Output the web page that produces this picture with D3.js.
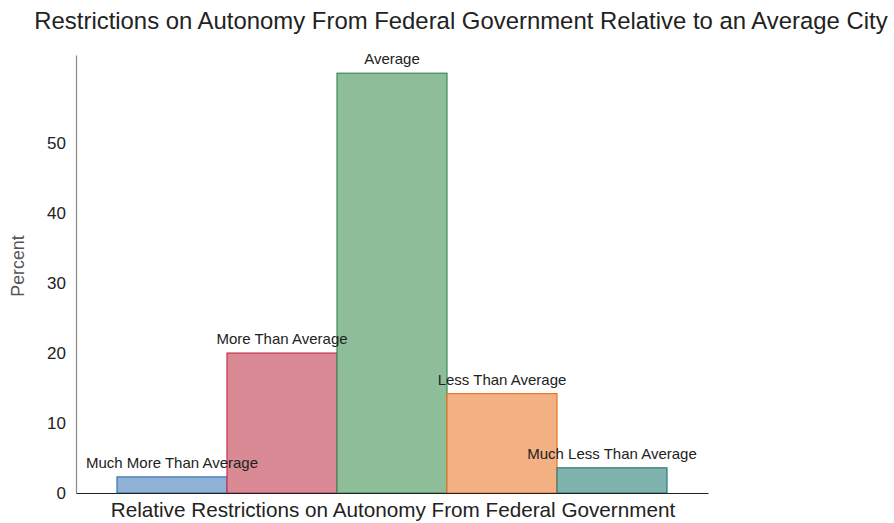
<!DOCTYPE html>
<html>
<head>
<meta charset="utf-8">
<script src="https://cdn.jsdelivr.net/npm/d3@7"></script>
<style>
  body { margin: 0; background: #fff; }
  svg { display: block; font-family: "Liberation Sans", Arial, Helvetica, sans-serif; }
</style>
</head>
<body>
<svg id="chart" width="894" height="523"></svg>
<script>
const categories = ["Much More Than Average", "More Than Average", "Average", "Less Than Average", "Much Less Than Average"];
const values = [2.3, 20.0, 60.0, 14.2, 3.6];
const yTicks = [0, 10, 20, 30, 40, 50];
const fills = ["#90b2d7", "#d98a94", "#8ebd99", "#f3b183", "#80b2ae"];
const strokes = ["#3c72ad", "#c4364b", "#3a8e55", "#ee7420", "#2e7c74"];

(function () {
const svg = d3.select("#chart");
const mLeft = 76, mRight = 708, mTop = 55, mBottom = 493;

const x = d3.scaleBand().domain(categories).range([mLeft, mRight]).paddingInner(0).paddingOuter(0.3727);
const y = d3.scaleLinear().domain([0, 62.6]).range([mBottom, mTop]);

// title
svg.append("text").attr("x", 461).attr("y", 29).attr("text-anchor", "middle")
  .attr("font-size", 23.9).attr("fill", "#222")
  .text("Restrictions on Autonomy From Federal Government Relative to an Average City");

// bars
const data = categories.map((c, i) => ({c, v: values[i], i}));
svg.append("g").selectAll("rect").data(data).join("rect")
  .attr("x", d => x(d.c))
  .attr("y", d => y(d.v))
  .attr("width", x.bandwidth())
  .attr("height", d => y(0) - y(d.v))
  .attr("fill", d => fills[d.i])
  .attr("stroke", d => strokes[d.i])
  .attr("stroke-width", 1.2);

// bar labels
svg.append("g").selectAll("text").data(data).join("text")
  .attr("x", d => x(d.c) + x.bandwidth() / 2)
  .attr("y", d => y(d.v) - 9)
  .attr("text-anchor", "middle")
  .attr("font-size", 15)
  .attr("fill", "#222")
  .text(d => d.c);

// y axis
const yAxis = d3.axisLeft(y).tickValues(yTicks).tickSize(0).tickPadding(10);
const gy = svg.append("g").attr("transform", `translate(${mLeft},0)`).call(yAxis);
gy.select(".domain").attr("stroke", "#888").attr("stroke-width", 1.2);
gy.selectAll("text").attr("font-size", 17).attr("fill", "#222").attr("font-family", "Liberation Sans, Arial, sans-serif");

// x axis line
const xAxis = d3.axisBottom(x).tickSize(0).tickFormat("");
const gx = svg.append("g").attr("transform", `translate(0,${mBottom})`).call(xAxis);
gx.select(".domain").attr("stroke", "#222").attr("stroke-width", 1.2);

// axis labels
svg.append("text").attr("x", 393).attr("y", 517).attr("text-anchor", "middle")
  .attr("font-size", 20.7).attr("fill", "#222")
  .text("Relative Restrictions on Autonomy From Federal Government");

svg.append("text").attr("transform", "translate(24,266) rotate(-90)").attr("text-anchor", "middle")
  .attr("font-size", 17.8).attr("fill", "#555")
  .text("Percent");
})();
</script>
</body>
</html>
